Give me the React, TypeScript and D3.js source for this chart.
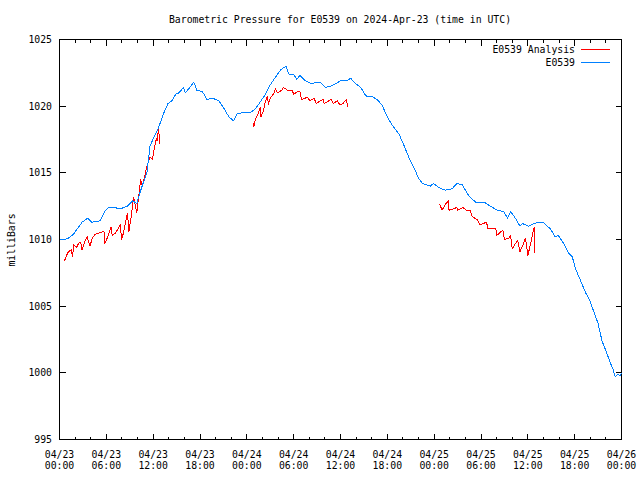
import { useEffect, useRef } from "react";
import * as d3 from "d3";

// hours since 2024-04-23 00:00 UTC
const START = Date.UTC(2024, 3, 23, 0, 0);
const SPAN_HOURS = 72;

const stationHours = [
  0.0, 0.5, 1.0, 1.8, 2.4, 2.9, 3.6, 4.1, 5.2, 5.8, 6.3, 7.0, 7.8, 8.7, 9.4, 9.9,
  10.3, 10.7, 11.2, 11.6, 12.1, 12.7, 13.3, 13.9, 14.4, 14.9, 15.3, 15.9, 16.1, 16.7,
  17.2, 17.6, 18.3, 18.9, 19.6, 20.4, 21.0, 21.7, 22.3, 22.7, 23.4, 24.4, 25.1, 25.7,
  26.4, 27.0, 27.7, 28.3, 29.0, 29.4, 30.0, 30.4, 30.8, 31.5, 32.2, 33.4, 34.1, 34.7,
  35.4, 36.0, 36.8, 37.3, 37.9, 38.6, 39.1, 39.4, 40.1, 40.7, 41.3, 42.0, 42.6, 43.5,
  44.1, 44.8, 45.4, 46.0, 46.5, 47.5, 47.9, 48.6, 49.4, 50.3, 50.9, 51.6, 52.4, 53.3,
  54.4, 55.2, 56.1, 56.9, 57.4, 57.8, 58.4, 59.0, 59.3, 60.1, 60.8, 61.4, 62.0, 62.5,
  62.9, 63.5, 63.9, 64.6, 65.2, 65.7, 66.1, 66.7, 67.4, 67.9, 68.5, 69.0, 69.5, 70.1,
  70.6, 70.9, 71.2, 71.5, 71.8, 72.0,
];
const stationPressure = [
  1010.0, 1010.0, 1010.05, 1010.4, 1010.9, 1011.3, 1011.6, 1011.3, 1011.4, 1012.1, 1012.4,
  1012.4, 1012.3, 1012.5, 1012.9, 1012.7, 1013.5, 1014.2, 1015.0, 1017.0, 1017.7, 1018.4,
  1019.4, 1020.2, 1020.4, 1020.9, 1021.0, 1021.4, 1021.0, 1021.4, 1021.8, 1021.2, 1021.1,
  1020.5, 1020.6, 1020.4, 1019.9, 1019.2, 1018.9, 1019.4, 1019.5, 1019.5, 1019.8, 1020.3,
  1020.9, 1021.6, 1022.2, 1022.7, 1023.0, 1022.4, 1022.4, 1022.0, 1022.3, 1021.9, 1021.7,
  1021.8, 1021.4, 1021.5, 1021.7, 1021.9, 1021.9, 1022.1, 1021.7, 1021.4, 1020.9, 1020.7,
  1020.7, 1020.5, 1020.1, 1019.2, 1018.6, 1017.9, 1017.1, 1016.1, 1015.4, 1014.6, 1014.2,
  1014.0, 1014.2, 1013.9, 1013.7, 1013.8, 1014.2, 1014.1, 1013.3, 1012.8, 1012.8, 1012.5,
  1012.2, 1012.1, 1011.6, 1012.1, 1011.6, 1011.0, 1011.2, 1011.0, 1011.2, 1011.3, 1011.3,
  1011.0, 1010.8, 1010.2, 1010.3, 1009.7, 1009.0, 1008.7, 1007.8, 1007.0, 1006.0, 1005.5,
  1004.5, 1003.7, 1002.4, 1001.5, 1000.7, 1000.3, 999.7, 999.9, 999.8, 1000.0,
];

// analysis: null marks a gap between runs
const analysisHours = [
  0.64, 0.9, 1.15, 1.5, 1.67, 1.83, 2.18, 2.43, 2.7, 2.9, 3.2, 3.55, 3.9, 4.2, 4.6, 5.1,
  5.7, 5.8, 6.1, 6.6, 6.75, 7.2, 7.8, 7.95, 8.2, 8.7, 8.9, 9.2, 9.5, 9.9, 10.4, 10.6,
  10.9, 11.2, 11.6, 11.9, 12.2, 12.4, 12.5, 12.7, 12.85,
  13.0,
  24.8, 24.9, 25.1, 25.5, 25.7, 25.8, 26.1, 26.4, 26.6, 26.8, 27.0, 27.4, 27.7, 27.9,
  28.5, 28.7, 29.2, 29.8, 30.0, 30.5, 30.8, 31.0, 31.5, 31.7, 32.1, 32.6, 32.9, 33.4,
  33.8, 33.9, 34.5, 34.8, 35.1, 35.6, 35.9, 36.3, 36.8, 36.85, 36.9,
  37.0,
  48.7, 49.0, 49.4, 49.8, 49.9, 50.5, 50.9, 51.0, 51.7, 52.1, 52.6, 52.9, 53.5, 53.9,
  54.3, 54.7, 54.9, 55.9, 56.0, 56.4, 56.8, 57.0, 57.6, 57.8, 58.0, 58.4, 58.7, 59.0,
  59.4, 59.7, 60.0, 60.2, 60.4, 60.7, 60.8, 60.9,
];
const analysisPressure: (number | null)[] = [
  1008.4, 1008.8, 1009.1, 1009.2, 1008.7, 1009.6, 1009.4, 1009.7, 1009.8, 1009.2, 1009.8,
  1010.2, 1009.5, 1010.1, 1010.4, 1010.5, 1010.6, 1009.7, 1010.1, 1010.9, 1010.3, 1010.5,
  1011.1, 1010.0, 1010.5, 1012.0, 1010.6, 1011.8, 1013.2, 1012.0, 1014.5, 1014.0, 1014.7,
  1015.5, 1016.2, 1016.0, 1017.0, 1017.6, 1017.4, 1018.3, 1017.2,
  null,
  1018.7, 1018.5, 1019.0, 1019.5, 1019.9, 1019.2, 1019.6, 1020.4, 1020.7, 1020.2, 1020.6,
  1020.9, 1021.3, 1021.0, 1021.2, 1021.4, 1021.2, 1021.2, 1020.9, 1021.1, 1021.1, 1020.5,
  1020.6, 1020.7, 1020.4, 1020.6, 1020.2, 1020.4, 1020.5, 1020.2, 1020.4, 1020.5, 1020.2,
  1020.4, 1020.1, 1020.2, 1020.5, 1020.1, 1019.9,
  null,
  1012.7, 1012.2, 1012.6, 1012.9, 1012.2, 1012.3, 1012.4, 1012.2, 1012.4, 1012.2, 1012.2,
  1011.7, 1011.5, 1011.1, 1011.2, 1011.3, 1010.8, 1010.8, 1010.3, 1010.5, 1010.7, 1010.0,
  1010.1, 1010.3, 1009.3, 1009.7, 1009.9, 1009.1, 1009.6, 1010.1, 1008.8, 1009.3, 1009.8,
  1010.7, 1010.9, 1009.0,
];

const yTicks = [995, 1000, 1005, 1010, 1015, 1020, 1025];
const legendLabels = ["E0539 Analysis", "E0539"];
const TITLE = "Barometric Pressure for E0539 on 2024-Apr-23 (time in UTC)";

const W = 640;
const H = 480;
const M = { top: 40, right: 19, bottom: 41, left: 59 };
const FONT = "'DejaVu Sans Mono', monospace";
const RED = "#ff0000";
const BLUE = "#0080ff";

const toDate = (h: number) => new Date(START + h * 3600e3);

export default function App() {
  const svgRef = useRef<SVGSVGElement>(null);

  useEffect(() => {
    if (!svgRef.current) return;
    const svg = d3.select(svgRef.current);
    svg.selectAll("*").remove();

    const x0 = M.left + 0.5;
    const x1 = W - M.right + 0.5;
    const yb = H - M.bottom + 0.5;
    const yt = M.top - 0.5;

    const x = d3.scaleUtc().domain([toDate(0), toDate(SPAN_HOURS)]).range([x0, x1]);
    const y = d3.scaleLinear().domain([995, 1025]).range([yb, yt]);

    const g = svg.append("g").attr("shape-rendering", "crispEdges");

    // ticks (inward, mirrored on all sides)
    const major = d3.utcHour.every(6)!.range(toDate(0), toDate(SPAN_HOURS + 0.1));
    const minor = d3.utcHour.every(2)!.range(toDate(0), toDate(SPAN_HOURS + 0.1));
    const tick = (ax: number, ay: number, bx: number, by: number) =>
      g.append("line")
        .attr("x1", ax).attr("y1", ay).attr("x2", bx).attr("y2", by)
        .attr("stroke", "#000").attr("stroke-width", 1);

    minor.forEach((d) => {
      const px = Math.round(x(d) - 0.5) + 0.5;
      tick(px, yb, px, yb - 3);
      tick(px, yt, px, yt + 3);
    });
    major.forEach((d) => {
      const px = Math.round(x(d) - 0.5) + 0.5;
      tick(px, yb, px, yb - 6);
      tick(px, yt, px, yt + 6);
    });
    yTicks.forEach((v) => {
      const py = Math.round(y(v) - 0.5) + 0.5;
      tick(x0, py, x0 + 6, py);
      tick(x1, py, x1 - 6, py);
    });

    // frame
    g.append("rect")
      .attr("x", x0).attr("y", yt)
      .attr("width", x1 - x0).attr("height", yb - yt)
      .attr("fill", "none").attr("stroke", "#000");

    const text = svg.append("g")
      .attr("font-family", FONT)
      .attr("font-size", 9.8)
      .attr("fill", "#000");

    // y tick labels
    yTicks.forEach((v) => {
      text.append("text")
        .attr("x", 52).attr("y", y(v) + 3.5)
        .attr("text-anchor", "end")
        .text(String(v));
    });

    // x tick labels, two lines
    const fmtDay = d3.utcFormat("%m/%d");
    const fmtTime = d3.utcFormat("%H:%M");
    major.forEach((d) => {
      const t = text.append("text").attr("text-anchor", "middle");
      t.append("tspan").attr("x", x(d)).attr("y", 457.5).text(fmtDay(d));
      t.append("tspan").attr("x", x(d)).attr("y", 469).text(fmtTime(d));
    });

    // title and axis label
    text.append("text")
      .attr("x", 340).attr("y", 23)
      .attr("text-anchor", "middle")
      .text(TITLE);

    text.append("text")
      .attr("transform", "translate(15,240) rotate(-90)")
      .attr("text-anchor", "middle")
      .text("milliBars");

    // series
    const stationData = stationHours.map((h, i) => ({ t: toDate(h), v: stationPressure[i] }));
    const analysisData = analysisHours.map((h, i) => ({ t: toDate(h), v: analysisPressure[i] }));

    const line = d3.line<{ t: Date; v: number | null }>()
      .defined((d) => d.v !== null)
      .x((d) => x(d.t))
      .y((d) => y(d.v as number));

    svg.append("path")
      .datum(analysisData)
      .attr("d", line)
      .attr("fill", "none")
      .attr("stroke", RED)
      .attr("stroke-width", 1)
      .attr("shape-rendering", "crispEdges");

    svg.append("path")
      .datum(stationData)
      .attr("d", line)
      .attr("fill", "none")
      .attr("stroke", BLUE)
      .attr("stroke-width", 1)
      .attr("shape-rendering", "crispEdges");

    // legend
    const colors = [RED, BLUE];
    legendLabels.forEach((lab, i) => {
      const ly = 49.5 + i * 13;
      text.append("text")
        .attr("x", 575).attr("y", ly + 3.5)
        .attr("text-anchor", "end")
        .text(lab);
      svg.append("line")
        .attr("x1", 581).attr("x2", 610)
        .attr("y1", ly).attr("y2", ly)
        .attr("stroke", colors[i])
        .attr("shape-rendering", "crispEdges");
    });
  }, []);

  return (
    <svg
      ref={svgRef}
      width={W}
      height={H}
      style={{ position: "absolute", left: 0, top: 0, background: "#fff" }}
    />
  );
}
